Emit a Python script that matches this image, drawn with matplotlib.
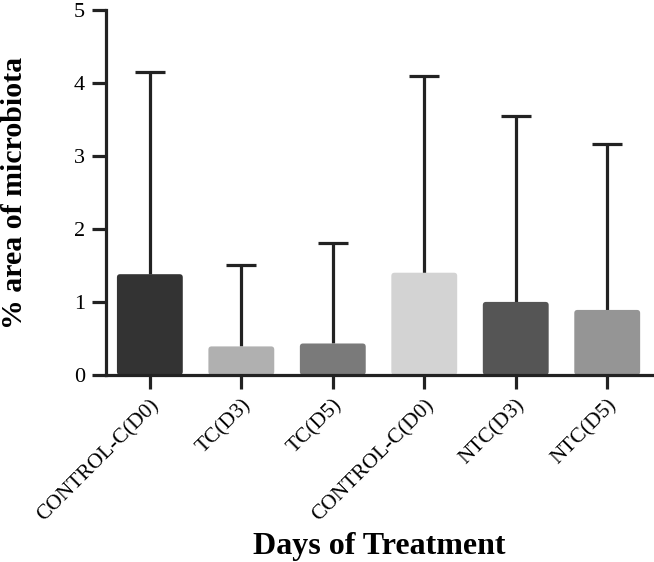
import numpy as np
import matplotlib
matplotlib.use("Agg")
import matplotlib.pyplot as plt
from matplotlib.patches import FancyBboxPatch

grupos = ["CONTROL-C(D0)", "TC(D3)", "TC(D5)", "CONTROL-C(D0)", "NTC(D3)", "NTC(D5)"]
medias = [1.38, 0.39, 0.43, 1.40, 1.00, 0.89]
errores = [2.77, 1.11, 1.38, 2.69, 2.55, 2.28]
colores = ["#333333", "#b0b0b0", "#7a7a7a", "#d3d3d3", "#555555", "#959595"]

plt.rcParams['font.family'] = ['Liberation Serif', 'DejaVu Serif']

fig = plt.figure(figsize=(6.54, 5.62), dpi=100)
ax = fig.add_axes([0.162, 0.333, 0.835, 0.649])

x = np.arange(len(grupos))
barras = ax.bar(x, medias, width=0.72, color=colores, zorder=2)

# esquinas un poco redondeadas
for b in barras:
    x0, y0, w, h = b.get_x(), b.get_y(), b.get_width(), b.get_height()
    caja = FancyBboxPatch((x0, y0), w, h, boxstyle="round,pad=0,rounding_size=0.035",
                          mutation_aspect=1.25, facecolor=b.get_facecolor(),
                          edgecolor='none', zorder=2)
    ax.add_patch(caja)
    b.remove()

# solo la barra de error superior, con su tope
topes = np.array(medias) + np.array(errores)
ax.vlines(x, medias, topes, color='#222222', linewidth=2.3, zorder=1)
ax.hlines(topes, x - 0.165, x + 0.165, color='#222222', linewidth=2.3, zorder=1)

ax.set_xlim(-0.48, 5.49)
ax.set_ylim(0, 5)
ax.set_yticks([0, 1, 2, 3, 4, 5])
ax.set_xticks(x)
ax.set_xticklabels(grupos, rotation=45, ha='right', rotation_mode='anchor', fontsize=15.5)
ax.tick_params(axis='y', labelsize=16, width=2.3, length=10, pad=5, color='#222222')
ax.tick_params(axis='x', width=2.3, length=10, pad=5, color='#222222')

for lado in ['top', 'right']:
    ax.spines[lado].set_visible(False)
for lado in ['left', 'bottom']:
    ax.spines[lado].set_linewidth(2.3)
    ax.spines[lado].set_color('#222222')

ax.set_ylabel('% area of microbiota', fontsize=21.5, fontweight='bold')
ax.yaxis.set_label_coords(-0.142, 0.5)
ax.set_xlabel('Days of Treatment', fontsize=23, fontweight='bold')
ax.xaxis.set_label_coords(0.5, -0.43)

plt.savefig('out.png', dpi=100)
